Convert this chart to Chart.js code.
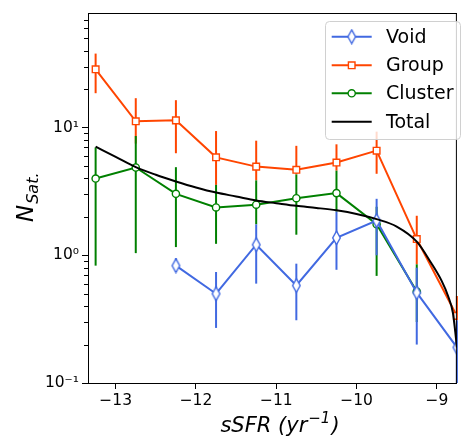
<!DOCTYPE html>
<html>
<head>
<meta charset="utf-8">
<script src="https://cdn.jsdelivr.net/npm/chart.js@4"></script>
<style>
  body { margin: 0; background: #fff; }
  #wrap { width: 463px; height: 437px; }
</style>
</head>
<body>
<div id="wrap"><canvas id="chart" width="463" height="437"></canvas></div>
<script>
// 數據
const sSFR = [-13.25, -12.75, -12.25, -11.75, -11.25, -10.75, -10.25, -9.75, -9.25, -8.75];

const voidN  = [null, null, 0.83, 0.50, 1.21, 0.58, 1.37, 1.87, 0.51, 0.19];
const voidLo = [null, null, 0.74, 0.27, 0.60, 0.31, 0.77, 1.00, 0.20, 0.08];
const voidHi = [null, null, 0.95, 0.74, 1.75, 0.86, 2.20, 2.77, 0.80, 0.31];

const groupN  = [28.6, 11.2, 11.4, 5.85, 4.95, 4.67, 5.33, 6.6, 1.34, 0.335];
const groupLo = [18.6, 7.5, 6.3, 3.56, 3.86, 4.3, 4.6, 4.35, 0.85, 0.31];
const groupHi = [38.0, 17.0, 16.4, 9.4, 7.9, 7.2, 7.4, 9.3, 2.04, 0.48];

const clusterN  = [3.99, 4.87, 3.03, 2.37, 2.49, 2.80, 3.07, 1.75, 0.52, null];
const clusterLo = [0.83, 1.04, 1.16, 1.23, 1.75, 1.45, 2.20, 0.69, 0.30, null];
const clusterHi = [7.0, 8.6, 4.9, 3.56, 3.86, 4.3, 4.6, 2.4, 0.85, null];

const totalX = [-13.25, -13.0, -12.75, -12.5, -12.25, -12.0, -11.75, -11.5, -11.25, -11.0, -10.75, -10.5,
                -10.25, -10.0, -9.75, -9.5, -9.25, -9.07, -8.94, -8.86, -8.80, -8.77, -8.75];
const totalN = [7.1, 5.9, 4.9, 4.27, 3.79, 3.4, 3.1, 2.89, 2.69, 2.56, 2.44, 2.35,
                2.25, 2.11, 1.92, 1.68, 1.28, 0.87, 0.63, 0.48, 0.355, 0.25, 0.19];

const xTicks = [-13, -12, -11, -10, -9];
const yTickVals = [0.1, 0.2, 0.3, 0.4, 0.5, 0.6, 0.7, 0.8, 0.9, 1, 2, 3, 4, 5, 6, 7, 8, 9, 10, 20, 30, 40, 50, 60, 70];
const yMajor = [0.1, 1, 10];
const yMajorLabels = ['10\u207B\u00B9', '10\u2070', '10\u00B9'];

const BLUE = '#4169E1';
const RED = '#FF4500';
const GREEN = '#008000';

// 細菱形標記
function thinDiamond(color) {
    const c = document.createElement('canvas');
    c.width = 11; c.height = 16;
    const g = c.getContext('2d');
    g.beginPath();
    g.moveTo(5.5, 1.2);
    g.lineTo(9.3, 8);
    g.lineTo(5.5, 14.8);
    g.lineTo(1.7, 8);
    g.closePath();
    g.fillStyle = '#fff';
    g.fill();
    g.lineWidth = 1.4;
    g.strokeStyle = color;
    g.stroke();
    return c;
}
const diamondImg = thinDiamond(BLUE);

const toPts = (xs, ys) => xs.map((x, i) => ({ x: x, y: ys[i] }));
const isMajor = v => yMajor.some(m => Math.abs(m - v) < 1e-9);

// 誤差棒
const errorBars = {
    id: 'errorBars',
    beforeDatasetDraw(chart, args) {
        const ds = chart.data.datasets[args.index];
        if (!ds.errLo) return;
        const { ctx, chartArea, scales: { x, y } } = chart;
        ctx.save();
        ctx.beginPath();
        ctx.rect(chartArea.left, chartArea.top, chartArea.right - chartArea.left + 2, chartArea.bottom - chartArea.top);
        ctx.clip();
        ctx.strokeStyle = ds.borderColor;
        ctx.lineWidth = 2;
        ds.data.forEach((p, i) => {
            const lo = ds.errLo[i], hi = ds.errHi[i];
            if (lo == null || hi == null) return;
            const px = x.getPixelForValue(p.x);
            ctx.beginPath();
            ctx.moveTo(px, y.getPixelForValue(lo));
            ctx.lineTo(px, y.getPixelForValue(hi));
            ctx.stroke();
        });
        ctx.restore();
    }
};

// 邊框, 次刻度, 軸標題, 圖例
const decorations = {
    id: 'decorations',
    afterDraw(chart) {
        const { ctx, chartArea: a } = chart;
        const yScale = chart.scales.y;
        ctx.save();

        // 上/右邊框
        ctx.strokeStyle = '#000';
        ctx.lineWidth = 1;
        ctx.beginPath();
        ctx.moveTo(a.left, a.top + 0.5);
        ctx.lineTo(a.right, a.top + 0.5);
        ctx.moveTo(a.right - 0.5, a.top);
        ctx.lineTo(a.right - 0.5, a.bottom);
        ctx.stroke();

        // 次刻度
        ctx.strokeStyle = '#000';
        ctx.lineWidth = 1;
        yTickVals.filter(v => !isMajor(v)).forEach(v => {
            const py = Math.round(yScale.getPixelForValue(v)) + 0.5;
            ctx.beginPath();
            ctx.moveTo(a.left - 4, py);
            ctx.lineTo(a.left, py);
            ctx.stroke();
        });

        // x 軸標題
        ctx.fillStyle = '#000';
        ctx.textBaseline = 'alphabetic';
        ctx.textAlign = 'left';
        const big = 'italic 21px "DejaVu Sans"';
        const sup = 'italic 15px "DejaVu Sans"';
        const p1 = 'sSFR (yr', p2 = '\u22121', p3 = ')';
        ctx.font = big; const w1 = ctx.measureText(p1).width; const w3 = ctx.measureText(p3).width;
        ctx.font = sup; const w2 = ctx.measureText(p2).width;
        let tx = 279 - (w1 + w2 + w3) / 2;
        const base = 432;
        ctx.font = big; ctx.fillText(p1, tx, base); tx += w1 + 1;
        ctx.font = sup; ctx.fillText(p2, tx, base - 9); tx += w2 + 1;
        ctx.font = big; ctx.fillText(p3, tx, base);

        // y 軸標題
        ctx.save();
        ctx.translate(33, 222);
        ctx.rotate(-Math.PI / 2);
        ctx.font = 'italic 23px "DejaVu Sans"';
        ctx.fillText('N', 0, 0);
        const wn = ctx.measureText('N').width;
        ctx.font = 'italic 16px "DejaVu Sans"';
        ctx.fillText('Sat.', wn + 1, 5);
        ctx.restore();

        // 圖例
        const lx = 325.5, ly = 21.5, lw = 135, lh = 118;
        ctx.beginPath();
        ctx.roundRect(lx, ly, lw, lh, 4);
        ctx.fillStyle = 'rgba(255,255,255,0.8)';
        ctx.fill();
        ctx.strokeStyle = '#d0d0d0';
        ctx.lineWidth = 1;
        ctx.stroke();

        const rows = [36.7, 65.3, 93.3, 121.7];
        ctx.font = '19px "DejaVu Sans"';
        ctx.textBaseline = 'middle';
        chart.data.datasets.forEach((ds, i) => {
            const ry = rows[i];
            ctx.strokeStyle = ds.borderColor;
            ctx.lineWidth = 2;
            ctx.beginPath();
            ctx.moveTo(331.7, ry);
            ctx.lineTo(371.7, ry);
            ctx.stroke();
            const mx = 351.7;
            ctx.lineWidth = 1.4;
            ctx.fillStyle = '#fff';
            if (ds.pointStyle === 'rect') {
                ctx.beginPath();
                ctx.rect(mx - 3.3, ry - 3.3, 6.6, 6.6);
                ctx.fill(); ctx.stroke();
            } else if (ds.pointStyle === 'circle') {
                ctx.beginPath();
                ctx.arc(mx, ry, 3.6, 0, Math.PI * 2);
                ctx.fill(); ctx.stroke();
            } else if (ds.pointStyle instanceof HTMLCanvasElement) {
                ctx.drawImage(ds.pointStyle, mx - ds.pointStyle.width / 2, ry - ds.pointStyle.height / 2);
            }
            ctx.fillStyle = '#000';
            ctx.fillText(ds.label, 386, ry + 1);
        });
        ctx.restore();
    }
};

Chart.defaults.font.family = '"DejaVu Sans"';
Chart.defaults.color = '#000';

new Chart(document.getElementById('chart'), {
    type: 'line',
    data: {
        datasets: [
            {
                label: 'Void', data: toPts(sSFR, voidN), errLo: voidLo, errHi: voidHi,
                borderColor: BLUE, borderWidth: 2, pointStyle: diamondImg,
                order: 1
            },
            {
                label: 'Group', data: toPts(sSFR, groupN), errLo: groupLo, errHi: groupHi,
                borderColor: RED, borderWidth: 2, pointStyle: 'rect', pointRadius: 4.7,
                pointBackgroundColor: '#fff', pointBorderColor: RED, pointBorderWidth: 1.4,
                order: 3
            },
            {
                label: 'Cluster', data: toPts(sSFR, clusterN), errLo: clusterLo, errHi: clusterHi,
                borderColor: GREEN, borderWidth: 2, pointStyle: 'circle', pointRadius: 3.6,
                pointBackgroundColor: '#fff', pointBorderColor: GREEN, pointBorderWidth: 1.4,
                order: 2
            },
            {
                label: 'Total', data: toPts(totalX, totalN),
                borderColor: '#000', borderWidth: 2, pointRadius: 0,
                cubicInterpolationMode: 'monotone',
                order: 0
            }
        ]
    },
    options: {
        responsive: false,
        animation: false,
        devicePixelRatio: 1,
        layout: { padding: { top: 13, right: 1, left: 0, bottom: 0 } },
        plugins: { legend: { display: false }, tooltip: { enabled: false } },
        elements: { line: { tension: 0 } },
        scales: {
            x: {
                type: 'linear',
                min: -13.345,
                max: -8.75,
                afterBuildTicks: s => { s.ticks = xTicks.map(v => ({ value: v })); },
                afterFit: s => { s.height = 54; },
                grid: { drawOnChartArea: false, tickLength: 6, tickColor: '#000', tickWidth: 1 },
                border: { color: '#000', width: 1 },
                ticks: {
                    autoSkip: false, maxRotation: 0, padding: 3,
                    font: { size: 15.5 },
                    callback: v => String(v).replace('-', '\u2212')
                }
            },
            y: {
                type: 'logarithmic',
                min: 0.1,
                max: 79,
                afterBuildTicks: s => { s.ticks = yTickVals.map(v => ({ value: v })); },
                afterFit: s => { s.width = 88; },
                grid: {
                    drawOnChartArea: false, tickLength: 6, tickWidth: 1,
                    tickColor: c => (c.tick && isMajor(c.tick.value)) ? '#000' : 'rgba(0,0,0,0)'
                },
                border: { color: '#000', width: 1 },
                ticks: {
                    autoSkip: false, padding: 3,
                    font: { size: 15.5 },
                    callback: v => isMajor(v) ? yMajorLabels[yMajor.findIndex(m => Math.abs(m - v) < 1e-9)] : ''
                }
            }
        }
    },
    plugins: [errorBars, decorations]
});
</script>
</body>
</html>
